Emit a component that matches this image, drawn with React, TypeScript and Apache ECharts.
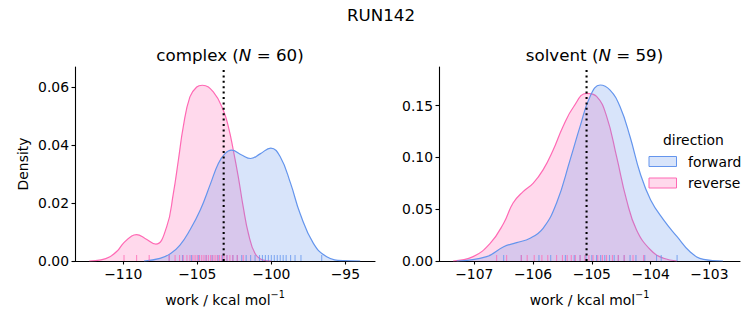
import React, { useEffect, useRef } from 'react';
import * as echarts from 'echarts';

// KDE curves: [work, density]
const complexReverse = [
  [-112.3, 0], [-111.5, 0.0004], [-110.9, 0.0015], [-110.4, 0.0035], [-110.0, 0.0061],
  [-109.43, 0.0086], [-109.1, 0.0091], [-108.53, 0.0078], [-107.8, 0.0058], [-107.07, 0.0118],
  [-106.62, 0.0233], [-106.28, 0.0348], [-105.95, 0.0463], [-105.5, 0.0567], [-105.04, 0.0601],
  [-104.66, 0.0607], [-103.92, 0.0584], [-103.24, 0.052], [-102.9, 0.0463], [-102.57, 0.0383],
  [-102.23, 0.029], [-101.9, 0.0187], [-101.55, 0.0095], [-101.1, 0.0026], [-100.54, 0.0003],
  [-100.0, 0],
];
const complexForward = [
  [-108.6, 0], [-107.52, 0.0009], [-106.8, 0.0026], [-106.17, 0.0055], [-105.5, 0.0107],
  [-104.8, 0.0176], [-104.1, 0.0268], [-103.58, 0.0337], [-103.13, 0.0371], [-102.7, 0.0383],
  [-102.0, 0.0366], [-101.4, 0.0354], [-100.76, 0.037], [-100.04, 0.039], [-99.4, 0.036],
  [-98.7, 0.0268], [-98.06, 0.0164], [-97.16, 0.0061], [-96.26, 0.0015], [-95.1, 0.0001],
  [-94.0, 0],
];
const solventReverse = [
  [-107.36, 0], [-107.02, 0.0042], [-106.73, 0.017], [-106.5, 0.0365], [-106.34, 0.056],
  [-106.17, 0.067], [-106.0, 0.075], [-105.83, 0.088], [-105.66, 0.107], [-105.49, 0.13],
  [-105.31, 0.149], [-105.09, 0.162], [-104.92, 0.159], [-104.75, 0.14], [-104.58, 0.101],
  [-104.41, 0.059], [-104.24, 0.03], [-104.0, 0.0106], [-103.78, 0.0026], [-103.55, 0],
];
const solventForward = [
  [-107.3, 0], [-106.79, 0.0042], [-106.5, 0.0138], [-106.28, 0.0177], [-106.05, 0.022],
  [-105.83, 0.0316], [-105.6, 0.056], [-105.37, 0.0977], [-105.2, 0.13], [-105.03, 0.159],
  [-104.86, 0.17], [-104.69, 0.165], [-104.52, 0.149], [-104.35, 0.12], [-104.18, 0.085],
  [-104.0, 0.059], [-103.78, 0.0397], [-103.55, 0.0235], [-103.33, 0.009], [-103.1, 0.0016],
  [-102.77, 0],
];

// rug samples
const complexForwardRug = [-106.9, -106.0, -105.4, -104.9, -104.4, -104.0, -103.6, -103.3, -103.0, -102.6,
  -102.3, -102.0, -101.7, -101.4, -101.1, -100.8, -100.6, -100.4, -100.2, -100.0, -99.8, -99.6, -99.4,
  -99.2, -99.0, -98.7, -98.4, -98.0, -96.6];
const complexReverseRug = [-109.95, -109.1, -108.25, -106.9, -106.5, -106.2, -105.95, -105.7, -105.5,
  -105.3, -105.15, -105.0, -104.85, -104.7, -104.55, -104.4, -104.25, -104.1, -103.95, -103.8, -103.65,
  -103.5, -103.35, -103.2, -103.0, -102.8, -102.6, -102.3, -101.9];
const solventForwardRug = [-106.5, -106.2, -105.9, -105.7, -105.45, -105.3, -105.2, -105.1, -105.0,
  -104.92, -104.85, -104.78, -104.7, -104.62, -104.55, -104.45, -104.35, -104.25, -104.1, -103.9,
  -103.82, -103.55];
const solventReverseRug = [-106.62, -106.45, -106.2, -106.1, -105.98, -105.85, -105.75, -105.6, -105.5,
  -105.42, -105.35, -105.28, -105.2, -105.12, -105.05, -104.98, -104.9, -104.82, -104.75, -104.65,
  -104.55, -104.45, -104.3, -104.12];

const complexMean = -103.22;
const solventMean = -105.09;

const complexXTicks = [-110, -105, -100, -95];
const solventXTicks = [-107, -106, -105, -104, -103];

const BLUE = '#6495ED';
const PINK = '#FF69B4';
const BLUE_FILL = 'rgba(100,149,237,0.25)';
const PINK_FILL = 'rgba(255,105,180,0.25)';
const FONT = 'DejaVu Sans';

const minus = (v: number) => (v < 0 ? '\u2212' : '') + Math.abs(v);

function xAxis(gridIndex: number, min: number, max: number, ticks: number[]) {
  return {
    type: 'value', gridIndex, min, max,
    splitLine: { show: false },
    axisLine: { show: true, onZero: false, lineStyle: { color: '#000', width: 1.1 } },
    axisTick: { show: true, length: 3.5, customValues: ticks, lineStyle: { color: '#000', width: 1.1 } },
    axisLabel: { customValues: ticks, formatter: minus, color: '#000', fontFamily: FONT, fontSize: 13.9, margin: 6 },
    name: '{a|work / kcal mol}{s|\u22121}',
    nameLocation: 'middle', nameGap: 28,
    nameTextStyle: {
      rich: {
        a: { fontFamily: FONT, fontSize: 13.9, color: '#000', lineHeight: 18, verticalAlign: 'bottom' },
        s: { fontFamily: FONT, fontSize: 9.7, color: '#000', lineHeight: 10, verticalAlign: 'top' },
      },
    },
  };
}

function yAxis(gridIndex: number, max: number, interval: number, name: string) {
  return {
    type: 'value', gridIndex, min: 0, max, interval,
    splitLine: { show: false },
    axisLine: { show: true, lineStyle: { color: '#000', width: 1.1 } },
    axisTick: { show: true, length: 3.5, lineStyle: { color: '#000', width: 1.1 } },
    axisLabel: { formatter: (v: number) => v.toFixed(2), color: '#000', fontFamily: FONT, fontSize: 13.9, margin: 6, showMaxLabel: false },
    name, nameLocation: 'middle', nameGap: 45,
    nameTextStyle: { fontFamily: FONT, fontSize: 13.9, color: '#000' },
  };
}

function kde(idx: number, data: number[][], color: string, fill: string, name: string, z: number) {
  return {
    type: 'line', name, xAxisIndex: idx, yAxisIndex: idx, data, smooth: 0.45,
    symbol: 'none', silent: true, z,
    lineStyle: { color, width: 1.2 },
    areaStyle: { color: fill, opacity: 1 },
  };
}

function rug(idx: number, vals: number[], color: string) {
  return {
    type: 'scatter', xAxisIndex: idx, yAxisIndex: idx, silent: true, z: 4,
    data: vals.map((v) => [v, 0]),
    symbol: 'rect', symbolSize: [1.1, 6], symbolOffset: [0, -3],
    itemStyle: { color, opacity: 0.75 },
  };
}

function vline(idx: number, x: number, top: number) {
  return {
    type: 'line', xAxisIndex: idx, yAxisIndex: idx, data: [[x, 0], [x, top]], symbol: 'none', silent: true, z: 6,
    lineStyle: { color: '#000', width: 2.1, type: [2, 3.4] },
  };
}

export default function App() {
  const ref = useRef<HTMLDivElement>(null);
  useEffect(() => {
    document.body.style.margin = '0';
    const chart = echarts.init(ref.current!, null, { renderer: 'svg' });
    const titleRich = {
      a: { fontFamily: FONT, fontSize: 16.7, color: '#000', fontWeight: 'normal' },
      i: { fontFamily: FONT, fontSize: 16.7, color: '#000', fontStyle: 'italic', fontWeight: 'normal' },
    };
    chart.setOption({
      animation: false,
      backgroundColor: '#fff',
      title: [
        { text: 'RUN142', left: 376, top: 1, textAlign: 'center', textStyle: { fontFamily: FONT, fontSize: 16.7, fontWeight: 'normal', color: '#000' } },
        { text: '{a|complex (}{i|N}{a| = 60)}', left: 225, top: 41, textAlign: 'center', textStyle: { fontWeight: 'normal', rich: titleRich } },
        { text: '{a|solvent (}{i|N}{a| = 59)}', left: 589.5, top: 41, textAlign: 'center', textStyle: { fontWeight: 'normal', rich: titleRich } },
      ],
      grid: [
        { left: 75, top: 67, width: 300, height: 194 },
        { left: 439, top: 67, width: 301, height: 194 },
      ],
      xAxis: [xAxis(0, -113.26, -93.0, complexXTicks), xAxis(1, -107.6, -102.48, solventXTicks)],
      yAxis: [yAxis(0, 0.067, 0.02, 'Density'), yAxis(1, 0.1874, 0.05, '')],
      series: [
        kde(0, complexReverse, PINK, PINK_FILL, 'reverse', 2),
        kde(0, complexForward, BLUE, BLUE_FILL, 'forward', 3),
        rug(0, complexForwardRug, BLUE),
        rug(0, complexReverseRug, PINK),
        vline(0, complexMean, 0.067),
        kde(1, solventReverse, PINK, PINK_FILL, 'reverse', 2),
        kde(1, solventForward, BLUE, BLUE_FILL, 'forward', 3),
        rug(1, solventForwardRug, BLUE),
        rug(1, solventReverseRug, PINK),
        vline(1, solventMean, 0.1874),
      ],
      graphic: [
        { type: 'text', left: 695 - 32, top: 133, style: { text: 'direction', fontFamily: FONT, fontSize: 13.9, fill: '#000' } },
        { type: 'rect', shape: { x: 649, y: 156.5, width: 27.5, height: 10 }, style: { fill: BLUE_FILL, stroke: BLUE, lineWidth: 1 } },
        { type: 'rect', shape: { x: 649, y: 178, width: 27.5, height: 10 }, style: { fill: PINK_FILL, stroke: PINK, lineWidth: 1 } },
        { type: 'text', x: 688, y: 161.5, style: { text: 'forward', fontFamily: FONT, fontSize: 13.9, fill: '#000', verticalAlign: 'middle' } },
        { type: 'text', x: 688, y: 183, style: { text: 'reverse', fontFamily: FONT, fontSize: 13.9, fill: '#000', verticalAlign: 'middle' } },
      ],
    });
    return () => chart.dispose();
  }, []);
  return <div ref={ref} style={{ width: 753, height: 325 }} />;
}
